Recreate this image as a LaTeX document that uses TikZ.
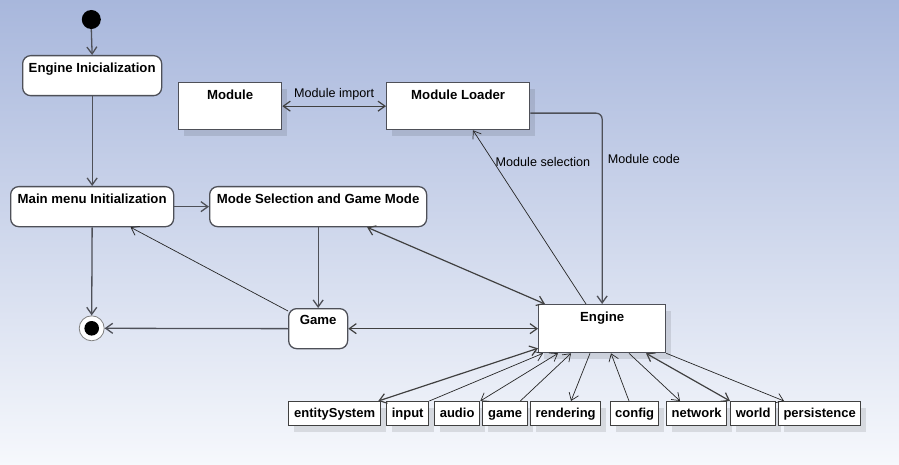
\documentclass[tikz,border=0pt]{standalone}
\usepackage{fontspec}
\setmainfont{Liberation Sans}
\usetikzlibrary{arrows.meta,shadows}
\definecolor{bgtop}{RGB}{168,183,220}
\definecolor{bgbot}{RGB}{246,248,252}
\definecolor{edge}{RGB}{78,80,88}
\begin{document}
\begin{tikzpicture}[x=1pt,y=-1pt,
  >={Straight Barb[length=7pt,width=10pt]},
  state/.style={draw=edge, line width=1.3pt, fill=white, rounded corners=8pt, anchor=north west, inner sep=0pt},
  comp/.style={draw=edge, line width=1.3pt, fill=white, anchor=north west, inner sep=0pt,
    drop shadow={shadow xshift=5pt, shadow yshift=-6pt, fill=black, opacity=0.1}},
  ttl/.style={anchor=base, yshift=-17.5pt, font=\bfseries\fontsize{13.2}{15}\selectfont},
  sbox/.style={comp, draw=black!75, minimum height=24pt, text height=9.6pt, text depth=2.6pt, font=\bfseries\fontsize{13}{15}\selectfont},
  lbl/.style={font=\fontsize{12.6}{15}\selectfont, inner sep=2pt},
  flow/.style={draw=edge, line width=1.3pt, ->},
  thinar/.style={draw=black!85, line width=0.7pt},
  dbl/.style={draw=black!75, line width=1.2pt, <->}
]
\shade[top color=bgtop, bottom color=bgbot] (0,0) rectangle (899,465);
\useasboundingbox (0,0) rectangle (899,465);

% initial and final states
\node[circle, fill=black, minimum size=19pt, inner sep=0pt] (init) at (91.3,19.5) {};
\node[circle, draw=gray, line width=0.8pt, fill=white!90!bgbot, minimum size=25pt, inner sep=0pt] (final) at (91.7,328.3) {};
\node[circle, fill=black, minimum size=14.6pt, inner sep=0pt] (finaldot) at (final.center) {};

% states
\node[state, minimum width=139pt, minimum height=40pt, label={[ttl]north:Engine Inicialization}] (einit) at (22,55) {};
\node[state, minimum width=163pt, minimum height=40pt, label={[ttl]north:Main menu Initialization}] (mmi) at (10,186) {};
\node[state, minimum width=217pt, minimum height=40pt, label={[ttl]north:Mode Selection and Game Mode}] (msg) at (209,186) {};
\node[state, minimum width=59pt, minimum height=40pt, label={[ttl, yshift=1pt]north:Game}] (game) at (288,308) {};

% components
\node[comp, minimum width=103pt, minimum height=47pt, label={[ttl]north:Module}] (module) at (178,82) {};
\node[comp, minimum width=143pt, minimum height=47pt, label={[ttl]north:Module Loader}] (loader) at (386,82) {};
\node[comp, minimum width=127pt, minimum height=48pt, label={[ttl]north:Engine}] (engine) at (538,304) {};

% small boxes
\node[sbox, minimum width=92pt] (es) at (288,401) {entitySystem};
\node[sbox, minimum width=42pt] (input) at (386,401) {input};
\node[sbox, minimum width=45pt] (audio) at (434,401) {audio};
\node[sbox, minimum width=45pt] (gamem) at (482,401) {game};
\node[sbox, minimum width=70pt] (rend) at (530,401) {rendering};
\node[sbox, minimum width=48pt] (config) at (610,401) {config};
\node[sbox, minimum width=60pt] (network) at (666,401) {network};
\node[sbox, minimum width=45pt] (world) at (730,401) {world};
\node[sbox, minimum width=82pt] (persist) at (778,401) {persistence};

% control flow
\draw[flow] (init.south) -- (einit.north);
\draw[flow] (einit.south) -- (mmi.north);
\draw[flow] (mmi.east) -- (msg.west);
\draw[flow] (mmi.south) -- (final.north);
\draw[flow] (msg.south) -- (game.north);
\draw[flow] (game.west) -- (final.east);
\draw[thinar, ->] ([yshift=-3pt]game.north west) -- ([xshift=38.5pt]mmi.south);

% engine relations
\draw[dbl] ([xshift=49pt]msg.south) -- ([xshift=7pt]engine.north west);
\draw[dbl] (game.east) -- (engine.west);
\draw[dbl] (module.east) -- node[lbl, above, yshift=3pt] {Module import} (loader.west);
\draw[thinar, ->] ([xshift=48pt]engine.north west) -- node[lbl, pos=0.82, anchor=west] {Module selection} ([xshift=87pt]loader.south west);
\draw[flow, rounded corners=6pt] ([yshift=-7pt]loader.east) -| node[lbl, pos=0.62, anchor=west, xshift=3pt] {Module code} (engine.north);

% engine to subsystems
\draw[dbl] ([yshift=5pt]engine.south west) -- ([xshift=-3pt]es.north east);
\draw[thinar, ->] (input.north east) -- ([xshift=5pt]engine.south west);
\draw[thinar, <->] (audio.north east) -- ([xshift=20pt]engine.south west);
\draw[thinar, ->] ([xshift=-8pt]gamem.north east) -- ([xshift=33pt]engine.south west);
\draw[thinar, ->] ([xshift=52pt]engine.south west) -- ([xshift=41pt]rend.north west);
\draw[thinar, ->] ([xshift=19pt]config.north west) -- ([xshift=73pt]engine.south west);
\draw[thinar, ->] ([xshift=91pt]engine.south west) -- ([xshift=14pt]network.north west);
\draw[dbl] ([xshift=108pt]engine.south west) -- (world.north west);
\draw[thinar, ->] (engine.south east) -- ([xshift=6pt]persist.north west);
\end{tikzpicture}
\end{document}
